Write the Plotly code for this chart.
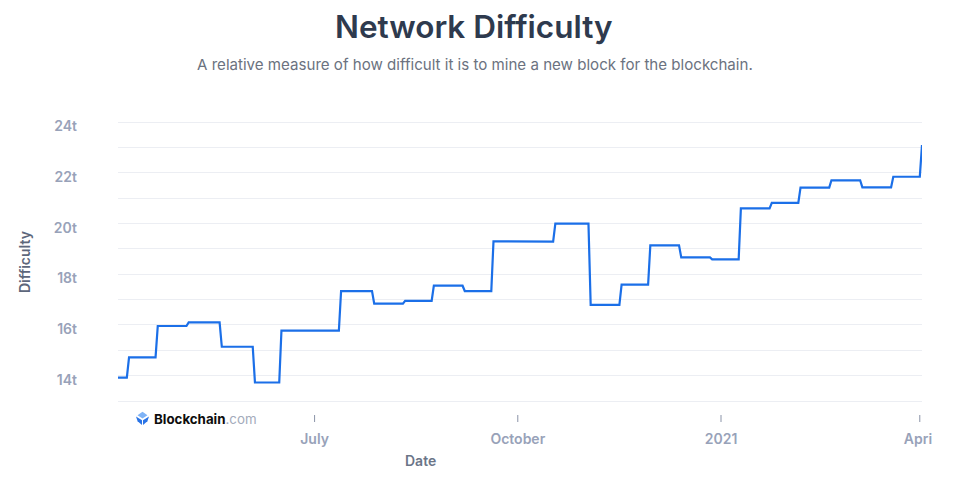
import datetime as dt
import plotly.graph_objects as go

# Difficulty adjustments: first day at each new level, and value (trillions)
change_dates = [
    "2020-04-03", "2020-04-08", "2020-04-21", "2020-05-05", "2020-05-20",
    "2020-06-04", "2020-06-16", "2020-07-13", "2020-07-28", "2020-08-11",
    "2020-08-24", "2020-09-07", "2020-09-20", "2020-10-04", "2020-10-18",
    "2020-11-03", "2020-11-17", "2020-11-30", "2020-12-14", "2020-12-28",
    "2021-01-10", "2021-01-24", "2021-02-06", "2021-02-20", "2021-03-06",
    "2021-03-20", "2021-04-02",
]
difficulty_t = [
    13.92, 14.72, 15.96, 16.10, 15.14,
    13.73, 15.78, 17.34, 16.84, 16.95,
    17.55, 17.34, 19.30, 19.29, 20.00,
    16.79, 17.59, 19.14, 18.67, 18.59,
    20.60, 20.82, 21.42, 21.71, 21.43,
    21.85, 23.10,
]
x_tick_vals = ["2020-07-01", "2020-10-01", "2021-01-01", "2021-04-01"]
x_tick_text = ["July", "October", "2021", "April"]

# daily-sampled step series: each level holds until the day before the next change
xs, ys = [], []
d = [dt.date.fromisoformat(s) for s in change_dates]
for i, (day, v) in enumerate(zip(d, difficulty_t)):
    xs.append(day)
    ys.append(v)
    if i + 1 < len(d):
        end = d[i + 1] - dt.timedelta(days=1)
        if end > day:
            xs.append(end)
            ys.append(v)

OFF = 8  # page body margin
W, H = 924, 462
ML, MR, MT, MB = 110, 10, 113, 56
PW, PH = W - ML - MR, H - MT - MB


def px(x):
    return (x - OFF - ML) / PW


def py(y):
    return (H - MB - (y - OFF)) / PH


FONT = "Inter, Noto Sans, sans-serif"
TICK_COL = "#98a2b9"
GRID = "#eceef3"

fig = go.Figure()
fig.add_trace(go.Scatter(
    x=xs, y=ys, mode="lines",
    line=dict(color="#1b6fe8", width=2.2),
    hoverinfo="skip", showlegend=False,
))

fig.update_layout(
    width=W, height=H,
    margin=dict(l=ML, r=MR, t=MT, b=MB, autoexpand=False),
    paper_bgcolor="white", plot_bgcolor="white",
    font=dict(family=FONT),
    showlegend=False,
)
fig.update_xaxes(
    range=[change_dates[0], change_dates[-1]],
    tickvals=x_tick_vals, ticktext=x_tick_text,
    showgrid=False, zeroline=False, showline=False, automargin=False,
    ticks="", ticklabelstandoff=15, ticklabeloverflow="allow",
    tickfont=dict(size=14, color=TICK_COL, family=FONT, weight=600),
)
fig.update_yaxes(
    range=[12.487, 24.05],
    tick0=0, dtick=2, ticksuffix="t", automargin=False,
    showgrid=True, gridcolor=GRID, gridwidth=1,
    minor=dict(dtick=1, tick0=0, showgrid=True, gridcolor=GRID, gridwidth=1),
    zeroline=False, showline=False, ticks="",
    ticklabelstandoff=40, ticklabelshift=4,
    tickfont=dict(size=14, color=TICK_COL, family=FONT, weight=600),
)

# x tick marks below the plot
shapes = []
for tv in x_tick_vals:
    shapes.append(dict(type="line", xref="x", yref="paper", x0=tv, x1=tv,
                       y0=py(415), y1=py(422), line=dict(color="#8a93a8", width=1)))

# Blockchain logo icon
def poly(pts, color):
    path = "M " + " L ".join(f"{px(a)},{py(b)}" for a, b in pts) + " Z"
    return dict(type="path", xref="paper", yref="paper", path=path,
                fillcolor=color, line=dict(width=0))

shapes.append(poly([(142.5, 411.8), (147.5, 415.2), (142.5, 418.6), (137.5, 415.2)], "#7fb3f6"))
shapes.append(poly([(136.0, 416.4), (142.0, 420.2), (142.0, 425.0), (137.6, 421.2)], "#2a74e6"))
shapes.append(poly([(149.0, 416.4), (143.0, 420.2), (143.0, 425.0), (147.4, 421.2)], "#2a74e6"))
fig.update_layout(shapes=shapes)

annotations = [
    dict(text="Network Difficulty", x=px(474), y=py(27), xref="paper", yref="paper",
         showarrow=False, xanchor="center", yanchor="middle",
         font=dict(size=31.5, color="#2e3a4e", family=FONT, weight=600)),
    dict(text="A relative measure of how difficult it is to mine a new block for the blockchain.",
         x=px(474.5), y=py(64), xref="paper", yref="paper",
         showarrow=False, xanchor="center", yanchor="middle",
         font=dict(size=15.1, color="#6b7280", family=FONT)),
    dict(text="Difficulty", x=px(24), y=py(262), xref="paper", yref="paper",
         showarrow=False, textangle=-90, xanchor="center", yanchor="middle",
         font=dict(size=14, color="#5d677b", family=FONT, weight=600)),
    dict(text="Date", x=px(420), y=py(460), xref="paper", yref="paper",
         showarrow=False, xanchor="center", yanchor="middle",
         font=dict(size=14, color="#6b7588", family=FONT, weight=600)),
    dict(text="<b>Blockchain</b><span style='color:#a3abbb'>.com</span>",
         x=px(151.5), y=py(419), xref="paper", yref="paper",
         showarrow=False, xanchor="left", yanchor="middle",
         font=dict(size=13.3, color="#0d0d0d", family=FONT)),
]
fig.update_layout(annotations=annotations)

fig.write_html("out.html")
